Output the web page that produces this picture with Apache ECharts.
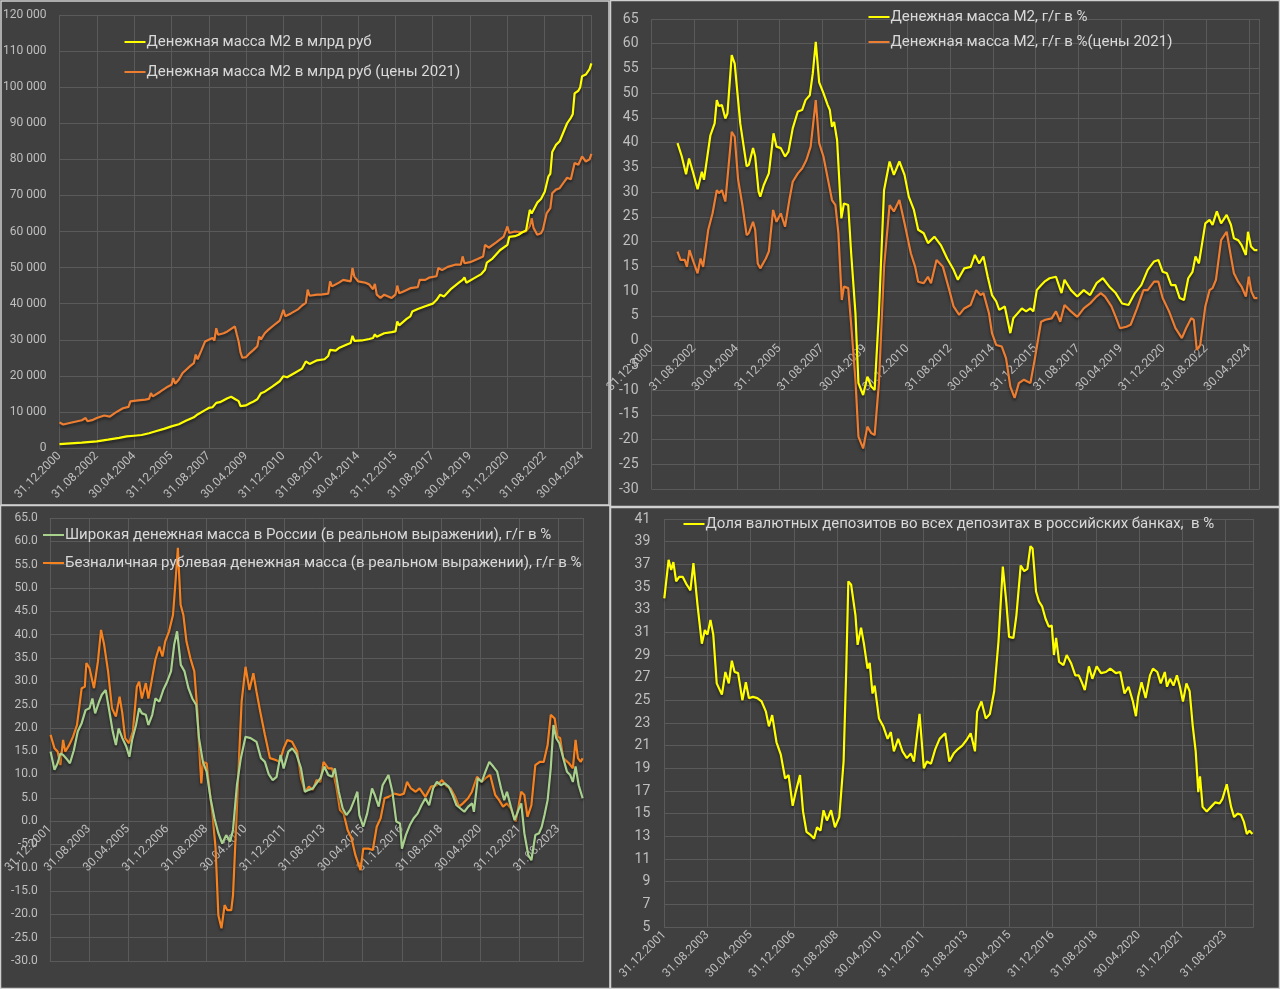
<!DOCTYPE html>
<html><head><meta charset="utf-8">
<script src="https://cdn.jsdelivr.net/npm/echarts@6/dist/echarts.min.js"></script>
<style>html,body{margin:0;padding:0;background:#404040}#c{width:1280px;height:989px}</style>
</head><body><div id="c"></div>
<script>
// ---- tick labels (x = months since first label) ----
const topTickLabels = ['31.12.2000','31.08.2002','30.04.2004','31.12.2005','31.08.2007','30.04.2009','31.12.2010','31.08.2012','30.04.2014','31.12.2015','31.08.2017','30.04.2019','31.12.2020','31.08.2022','30.04.2024'];
const bottomTickLabels = ['31.12.2001','31.08.2003','30.04.2005','31.12.2006','31.08.2008','30.04.2010','31.12.2011','31.08.2013','30.04.2015','31.12.2016','31.08.2018','30.04.2020','31.12.2021','31.08.2023'];

// ---- series names ----
const nameM2 = 'Денежная масса М2 в млрд руб';
const nameM2Real = 'Денежная масса М2 в млрд руб (цены 2021)';
const nameYoY = 'Денежная масса М2, г/г в %';
const nameYoYReal = 'Денежная масса М2, г/г в %(цены 2021)';
const nameBroad = 'Широкая денежная масса в России (в реальном выражении), г/г в %';
const nameCashless = 'Безналичная рублевая денежная масса (в реальном выражении), г/г в %';
const nameFx = 'Доля валютных депозитов во всех депозитах в российских банках,  в %';

// ---- panel 1: M2, bln rub [month since 12.2000, value] ----
const m2Nominal = [[0,1100],[6,1300],[12,1500],[20,1850],[26,2300],[32,2800],[36,3200],[40,3400],[44,3600],[48,4100],[52,4700],[56,5300],[60,6000],[64,6600],[68,7600],[72,8500],[74,9300],[78,10500],[80,11100],[82,11300],[84,12500],[86,12700],[90,13800],[92,14200],[93,14300],[94,13600],[96,13000],[97,11600],[98,11400],[100,11800],[102,12400],[104,12900],[106,13500],[108,15200],[110,15600],[114,17000],[118,18500],[120,19900],[122,19600],[126,20800],[130,22000],[132,24000],[134,23300],[138,24300],[142,24600],[144,25500],[145,27200],[148,27000],[150,27800],[154,28700],[156,29100],[157,31100],[158,29700],[162,29800],[166,30200],[168,30500],[169,31500],[170,30800],[174,31800],[178,32100],[180,32300],[181,35100],[182,34000],[186,35800],[188,36500],[189,37800],[192,38500],[196,39300],[200,40000],[202,41000],[204,42500],[206,42000],[210,44200],[214,45800],[216,46600],[217,47300],[218,45800],[222,47000],[226,48200],[228,49400],[229,51400],[232,52500],[236,54800],[240,56300],[241,58500],[244,58700],[246,59100],[248,59800],[250,60300],[251,60500],[252,66000],[253,65000],[256,68000],[258,69000],[260,71000],[262,75300],[263,76000],[264,82000],[266,84000],[268,85000],[270,87500],[272,90000],[274,91500],[275,92500],[276,98300],[278,99000],[279,100000],[280,103000],[282,103500],[284,105000],[285,106600]];
const m2Real = [[0,7100],[2,6500],[6,7000],[12,7700],[14,8300],[15,7400],[18,7800],[20,8300],[24,9000],[25,9200],[27,8700],[30,9800],[34,11000],[37,11400],[38,12900],[42,13200],[46,13400],[48,13600],[49,15200],[50,14300],[54,15600],[58,17000],[60,17500],[61,19400],[62,17800],[64,19000],[66,20800],[70,22700],[72,23500],[73,25900],[74,24600],[76,27000],[78,29500],[80,30000],[82,30500],[83,29800],[84,33200],[85,31400],[88,31800],[90,32300],[92,33000],[94,33700],[95,31500],[96,29500],[97,26500],[98,25000],[100,25200],[102,26300],[104,27200],[106,28200],[107,30900],[108,30100],[110,31800],[112,32800],[116,34500],[118,35300],[120,38300],[121,36500],[124,37300],[128,38500],[130,39500],[132,40200],[133,43900],[134,42200],[138,42500],[140,42500],[144,42800],[145,46200],[146,44800],[150,45900],[152,46600],[156,46200],[157,49900],[158,47500],[160,46200],[164,45800],[166,45300],[168,44000],[169,45500],[170,42500],[172,41600],[174,42500],[178,41600],[180,42500],[181,45000],[182,42900],[184,43300],[188,44300],[192,44600],[193,46600],[196,46600],[198,47200],[202,47600],[203,49900],[205,49300],[208,50200],[212,50800],[215,50800],[216,53100],[217,51200],[220,51500],[224,52400],[227,53100],[228,56300],[230,55500],[234,57000],[238,58600],[240,61400],[241,59600],[244,60000],[248,59800],[250,60000],[252,61500],[253,63700],[254,61000],[256,59100],[258,59500],[259,60500],[261,65000],[263,66500],[264,70600],[266,71600],[268,72000],[270,73500],[272,74900],[274,74500],[276,79000],[278,78500],[279,78100],[280,80800],[282,79400],[284,80000],[285,81500]];

// ---- panel 2: M2 y/y % [month since 12.2000, value] ----
const m2YoY = [[12.2,39.9],[14.2,37.2],[16.2,33.6],[17.6,36.8],[19.6,33.8],[21.6,30.6],[23.6,34.1],[24.6,32.5],[27.6,41.5],[29.6,43.9],[30.6,48.6],[31.6,47.4],[33,47.6],[34.6,44.9],[35.6,45.9],[37.6,57.7],[39,56.0],[41.6,43.9],[44.6,35.2],[45.6,35.5],[47.6,38.9],[48.6,37.2],[50.2,30.1],[51,29.1],[52.6,31.4],[55,33.8],[57.2,41.9],[58.6,39.2],[60.6,38.9],[62.6,37.2],[64.2,38.2],[66.2,42.9],[68.6,46.3],[70.6,46.6],[72.2,48.6],[74.2,49.6],[75.6,54.0],[77,60.4],[78.6,52.2],[80.6,50.0],[82.6,47.6],[83.6,46.6],[84.6,43.2],[85.6,44.2],[87,40.5],[89,24.7],[90.2,27.7],[92.2,27.4],[93.6,17.6],[95.6,5.5],[97,-8.6],[99.2,-11],[101.2,-7.3],[103,-9.3],[104.6,-10],[106.6,5.5],[109,30.4],[111.6,36.2],[113.6,33.5],[116.2,36.2],[118.6,33.5],[120.6,29.1],[123,26.4],[125,22.4],[127.6,21.7],[129.6,19.7],[132.6,21.0],[135.6,19.3],[138.6,16.6],[141.6,14.3],[143.6,12.3],[146.6,14.6],[149.6,14.9],[151.6,17.3],[153.6,15.6],[155.6,17.0],[157.6,12.9],[159.6,9.2],[161.6,7.9],[163,6.2],[165.6,6.9],[168.2,1.5],[169.6,4.5],[171.6,5.5],[173.6,6.5],[175.6,5.9],[177.6,6.5],[179,5.9],[180.6,10.2],[182.6,11.2],[184.2,11.9],[186.6,12.6],[189.6,12.9],[192.2,9.6],[193.6,12.3],[196.6,10.2],[199.6,8.9],[202.6,10.2],[205.6,9.2],[208.6,11.6],[211.6,12.6],[214.6,10.9],[217.6,9.6],[220.6,7.5],[223.6,7.2],[226.6,9.6],[229.6,11.2],[232.6,14.3],[235.6,16.0],[237.6,16.3],[239.6,13.9],[241.6,13.6],[243.6,11.2],[245.6,11.2],[247.6,8.6],[249.6,8.2],[251.6,12.6],[253.6,13.9],[255,17.0],[256.6,15.6],[259.6,23.7],[261.6,24.4],[263,23.4],[265,26.1],[267,23.7],[269.6,25.4],[271.6,23.4],[273,20.7],[275,20.3],[276.6,19.3],[278.6,17.3],[279.6,22.0],[281,19.0],[282.6,18.3],[284,18.3]];
const m2RealYoY = [[12.2,18.0],[13.6,16.3],[15.6,16.3],[16.6,14.9],[17.8,18.3],[19.6,16.0],[21.6,13.6],[23,16.6],[24.2,14.9],[26.6,22.4],[28.6,25.7],[30.6,30.4],[31.6,29.8],[33,30.4],[34.6,28.1],[37.6,42.2],[39,41.2],[40.6,32.5],[42.6,27.4],[44.6,21.3],[45.6,21.7],[47.6,24.0],[48.6,22.4],[49.8,15.6],[51,14.6],[53.6,16.6],[55,18.0],[57,26.4],[58.6,24.0],[60.6,25.7],[62.6,23.0],[64.6,28.4],[66.2,32.1],[68.6,33.8],[70.6,34.8],[72.6,36.5],[74.6,39.2],[77,48.6],[78.6,39.9],[80.6,37.2],[82.6,32.8],[84.6,28.4],[86.2,27.4],[87.6,21.7],[89.2,8.2],[90.2,10.9],[92.2,10.6],[93.6,3.2],[95.6,-7.9],[97,-19.4],[99.2,-21.8],[101.2,-17.4],[103,-18.7],[104.6,-19.1],[106.6,-8.6],[109,14.9],[111.6,27.4],[113.6,26.1],[116.2,28.4],[118.6,23.7],[121.6,17.6],[123.6,14.9],[125,11.9],[127.6,11.6],[129.6,12.9],[131,11.6],[133.6,16.3],[136.6,14.9],[139.6,10.2],[141.6,6.9],[144.2,5.2],[146.6,6.5],[149.6,7.2],[152.2,10.2],[154.2,9.2],[155.6,9.6],[158.2,5.5],[159.6,1.5],[161.6,-0.9],[164.2,-1.2],[166.2,-3.6],[168.2,-9.3],[170.2,-11.6],[172.2,-8.6],[174.6,-7.9],[177.6,-8.6],[179.6,-3.9],[182.6,3.8],[184.6,4.2],[187.6,4.5],[189.6,5.9],[191.6,3.8],[193.6,7.2],[196.6,5.9],[199.6,4.8],[202.6,6.5],[205.6,7.5],[208.6,8.9],[210.6,9.6],[212.6,8.9],[215.6,6.9],[217.6,4.8],[219.6,2.5],[222.6,2.8],[224.6,3.2],[227.6,6.5],[230.6,10.2],[232.6,10.2],[235.6,11.9],[237.6,11.9],[239.6,8.6],[242.6,5.9],[245.6,2.5],[248.6,0.5],[250.6,2.5],[253,4.5],[254.2,4.2],[255.6,-1.9],[257.2,-0.9],[259.6,6.9],[261.6,10.2],[263,10.6],[264.6,12.3],[267,20.3],[269.6,22.0],[271.6,17.0],[273,13.6],[275,11.9],[276.6,10.9],[278.6,8.9],[280,12.9],[281.2,9.9],[282.6,8.6],[284,8.6]];

// ---- panel 3: real y/y % [month since 12.2001, value] ----
const broadRealYoY = [[0.4,14.9],[2.4,11.0],[4,12.4],[5.4,14.5],[6.8,14.2],[8.3,13.5],[10.3,12.4],[12.3,15.2],[14.3,19.2],[16.3,21.0],[18.3,23.8],[20.3,24.2],[21.8,26.3],[23.2,23.1],[25.2,25.6],[26.6,27.1],[28.6,28.1],[30.2,24.2],[32.2,19.2],[33.8,16.3],[35.2,19.9],[37.1,17.8],[39.1,16.0],[40.7,13.8],[42.1,17.4],[44.1,20.6],[45.7,24.2],[47.1,23.1],[49.1,22.8],[50.4,20.6],[52.4,22.8],[54,26.3],[56,25.6],[58,28.1],[60,29.9],[62,32.1],[63.6,37.8],[65.1,40.7],[67,33.5],[68.9,32.1],[70.9,28.5],[72.9,26.3],[74.9,24.9],[76.3,17.8],[78.3,12.7],[80.2,10.6],[82.2,4.9],[84.2,0.6],[86.2,-2.6],[88.2,-4.8],[90.2,-3.0],[92.2,-4.4],[93.7,-1.9],[95.7,7.7],[97.7,13.5],[100.1,18.1],[102.7,17.8],[105.7,17.0],[108,13.5],[110,12.7],[112,10.0],[114,8.8],[116,9.5],[118,14.2],[119.6,11.3],[122,14.9],[124,15.6],[126,14.5],[128.5,11.3],[130.5,6.3],[132.5,6.7],[134.5,7.0],[136.4,8.1],[138.4,9.2],[140.4,11.7],[142.4,9.9],[144.4,9.5],[145.8,11.3],[147.8,6.3],[149.8,2.7],[151.7,1.3],[153.7,2.4],[155.7,4.5],[157.3,6.3],[158.3,1.3],[160.3,-1.2],[162.3,1.6],[164.8,7.0],[166.2,5.6],[168.2,3.1],[170.2,7.7],[171.2,8.1],[173.2,9.9],[175.2,6.3],[177.2,-0.1],[179.1,-0.5],[180.1,-5.9],[182.1,-3.0],[184.1,-0.9],[186.1,0.6],[188.1,1.6],[190.1,3.4],[192.1,4.9],[194,3.4],[196,7.0],[198,8.4],[200,7.7],[202,8.1],[204,7.4],[206,5.6],[208,3.4],[210,2.7],[212,2.0],[214,3.1],[216,3.8],[216.9,2.0],[218.9,9.2],[220.9,8.4],[222.8,10.6],[224.8,12.7],[226.8,11.7],[228.8,10.6],[230.8,7.0],[232.4,4.5],[233.8,6.3],[235.8,3.1],[237.7,0.2],[239.7,2.4],[241.1,3.8],[242.7,-2.6],[244.7,-7.3],[246.3,-8.4],[248.3,-3.0],[250.2,-2.6],[251.6,-1.2],[253,1.3],[254.6,4.5],[256.2,11.3],[257.6,20.6],[259,17.8],[260.6,16.7],[262.6,13.5],[264.5,10.6],[266.1,9.9],[267.5,8.4],[268.9,11.7],[270.5,7.7],[272.5,4.9]];
const cashlessRealYoY = [[0.4,18.5],[2.4,15.6],[4,14.9],[5.4,12.0],[6.8,17.4],[7.9,14.9],[9.9,16.3],[11.9,18.1],[13.9,20.6],[16.3,28.5],[17.9,28.8],[18.7,33.9],[20.3,32.8],[21.3,33.1],[22.6,28.5],[24.6,34.2],[26.2,41.0],[27.8,37.8],[29.8,32.1],[31.8,24.2],[33.8,22.4],[35.7,26.7],[37.1,23.1],[38.5,17.8],[40.5,16.7],[42.5,19.2],[44.5,28.8],[45.7,29.9],[47.1,26.3],[49.1,29.6],[50.4,26.3],[52,29.9],[54,34.6],[56,37.4],[57.6,35.3],[59,38.5],[61,40.7],[63,44.2],[64.3,51.4],[65.5,58.6],[66.9,46.4],[68.3,44.2],[69.9,38.5],[71.9,34.9],[73.9,32.1],[75.5,23.5],[76.3,16.3],[77.5,8.1],[78.3,12.7],[80.2,12.4],[81.8,6.3],[83.4,0.6],[84.8,-5.9],[86.2,-20.2],[87.8,-23.0],[89.4,-18.0],[90.8,-19.1],[92.8,-19.1],[93.7,-15.9],[95.3,-0.9],[96.7,12.7],[98.1,25.6],[100.1,33.1],[102.1,28.1],[104.1,31.7],[105.7,27.8],[107.6,23.5],[110,18.5],[112.6,13.5],[115.6,13.1],[117.6,12.7],[119.6,15.6],[121.5,17.4],[123.9,17.0],[126.5,14.9],[128.5,9.2],[130.5,6.3],[132.5,7.4],[134.5,6.7],[136.4,8.8],[138.4,8.4],[140,12.7],[142.4,11.3],[144.4,11.3],[146.4,7.7],[148.4,2.4],[150.3,1.6],[152.3,-1.9],[154.3,-3.7],[156.3,-7.3],[158.9,-10.5],[160.3,-5.9],[162.9,-5.9],[165.2,-6.2],[167.2,-1.2],[169.2,0.6],[171.2,4.9],[173.2,5.2],[176.2,5.9],[179.1,5.6],[181.1,5.9],[182.7,8.4],[184.7,7.0],[187.1,6.3],[189.1,7.0],[192.1,5.2],[195,7.4],[198,7.7],[200.6,8.8],[203,7.4],[205,7.0],[207.3,5.2],[209.3,3.1],[211.3,3.8],[213.9,4.9],[215.9,6.3],[218.5,9.5],[220.9,8.4],[222.8,9.2],[225.2,9.9],[227.8,5.6],[229.8,4.5],[231.8,3.1],[233.8,3.8],[235.8,2.7],[238.3,-0.1],[239.7,3.1],[241.1,6.3],[242.7,5.6],[244.3,0.9],[246.3,3.4],[248.3,12.0],[250.6,12.7],[252.6,12.7],[254.6,16.3],[256.2,22.8],[258.2,22.0],[259.6,18.1],[261,17.8],[262.6,13.5],[265.5,12.4],[267.5,11.3],[268.9,17.4],[270.1,13.5],[271.5,12.7],[272.5,13.5]];

// ---- panel 4: FX deposits share % [month since 12.2001, value] ----
const fxDepositShare = [[0,34.0],[2,37.4],[3.2,36.5],[4.2,37.2],[5.5,35.5],[6.9,35.9],[8.5,35.9],[10.1,35.3],[11.1,35.0],[12.1,34.7],[13.5,37.1],[15.4,33.4],[17.4,30.0],[18.8,31.2],[20,30.8],[21.4,32.1],[22.7,30.8],[24.3,26.5],[26.7,25.5],[28.3,27.5],[29.9,26.5],[31.3,28.5],[32.6,27.5],[34.2,27.4],[36.2,25.0],[37.8,26.6],[39.2,25.2],[41.1,25.3],[43.1,25.2],[45.1,24.9],[47.1,24.0],[48.5,22.7],[50,23.7],[52,21.3],[54,20.2],[56,18.1],[57.6,18.4],[59.5,15.7],[60.9,16.9],[62.9,18.4],[64.3,15.2],[65.9,13.4],[67.9,13.1],[69.4,12.8],[70.8,13.8],[72.4,13.5],[73.8,15.3],[75.4,14.4],[77.3,15.3],[79.1,13.8],[81.1,14.7],[83.1,19.6],[84.3,27.5],[85.3,35.5],[86.6,35.2],[88.6,32.5],[89.6,29.9],[91.2,31.4],[92.6,29.9],[94.2,27.8],[95.2,28.3],[96.5,25.6],[97.5,26.3],[99.5,23.4],[101.5,22.7],[103.5,21.6],[105,22.2],[106.4,20.5],[108.4,21.6],[110.4,20.5],[112.4,19.9],[114.3,20.3],[115.7,19.6],[118.3,23.8],[120.3,19.0],[121.7,19.6],[123.6,19.4],[125.6,20.7],[127.6,21.6],[130.2,22.1],[132.1,19.6],[134.1,20.3],[136.1,20.7],[138.1,21.0],[140.1,21.5],[142,22.1],[144,20.5],[145,24.0],[147,24.9],[149,23.4],[150.9,23.8],[152.9,25.8],[154.9,30.2],[156.9,36.8],[158.5,33.7],[159.8,30.6],[161.8,30.5],[163.2,32.5],[165.2,36.9],[166.8,36.4],[168.3,36.6],[169.7,38.6],[170.7,38.4],[172.3,34.6],[173.7,33.7],[175.1,33.3],[176.7,32.2],[178.2,31.5],[179.6,31.6],[180.6,29.0],[181.6,30.5],[183,28.4],[185,28.1],[186.5,29.0],[188.5,28.3],[190.5,27.2],[192.1,27.2],[193.5,26.6],[194.9,25.9],[196.8,28.0],[198.4,26.9],[200.4,28.0],[202.4,27.4],[204.7,27.5],[206.7,27.8],[209.3,27.4],[211.3,27.5],[213.3,25.6],[215.2,26.2],[217.2,24.9],[218.6,23.6],[219.6,25.3],[221.2,26.6],[223.1,25.2],[225.1,27.2],[226.5,27.8],[228.5,27.5],[230.1,26.5],[232,27.5],[233,26.2],[234.4,26.9],[236,26.3],[237.6,27.2],[239,26.2],[240.4,24.9],[242,26.5],[243.5,25.8],[244.9,22.8],[246.3,20.5],[247.5,16.9],[248.3,18.3],[249.5,15.6],[251.4,15.2],[253.4,15.6],[255.4,16.0],[257.4,15.9],[258.7,16.3],[260.7,17.6],[262.7,15.6],[264.1,14.7],[265.7,15.0],[267.3,14.9],[268.6,14.3],[270,13.2],[271.2,13.5],[272.6,13.2]];

// ---- styling ----
const BG = '#404040', GRID = '#5a5a5a', LABEL = '#bfbfbf', LEG = '#d9d9d9';
const FONT = 'Roboto, "Liberation Sans", sans-serif';
const YELLOW = '#ffff00', ORANGE = '#ed7d31', ORANGE2 = '#f5821f', GREEN = '#a9d18e';

// axis crossing at value 0 of the y axis: the x axis is lifted by the share of the
// grid height below zero (computed from the y axis range)
function xAxis(gi, max, labels, yMin, yMax, gridH) {
  const lift = yMin < 0 ? (-yMin) / (yMax - yMin) * gridH : 0;
  return {
    type: 'value', gridIndex: gi, min: 0, max: max, interval: 20,
    offset: -lift,
    axisLine: { show: true, onZero: false, lineStyle: { color: GRID } },
    axisTick: { show: false },
    splitLine: { show: true, lineStyle: { color: GRID, width: 1 } },
    axisLabel: {
      rotate: 45, color: LABEL, fontSize: 12, fontFamily: FONT, margin: 6,
      showMinLabel: true, showMaxLabel: true,
      formatter: v => (Math.abs(v % 20) < 1e-6 && labels[Math.round(v / 20)]) ? labels[Math.round(v / 20)] : ''
    }
  };
}
function yAxis(gi, min, max, interval, fs, margin, fmt) {
  return {
    type: 'value', gridIndex: gi, min: min, max: max, interval: interval,
    axisLine: { show: false, onZero: false }, axisTick: { show: false },
    splitLine: { show: true, lineStyle: { color: GRID, width: 1 } },
    axisLabel: { color: LABEL, fontSize: fs, fontFamily: FONT, margin: margin, formatter: fmt }
  };
}
function line(name, gi, color, data) {
  return {
    name: name, type: 'line', xAxisIndex: gi, yAxisIndex: gi, data: data,
    showSymbol: false, symbol: 'none', smooth: false,
    lineStyle: { color: color, width: 2.2, shadowColor: 'rgba(0,0,0,0.55)', shadowBlur: 3, shadowOffsetY: 2 },
    itemStyle: { color: color }, emphasis: { disabled: true }
  };
}
function legend(names, left, top, gap) {
  return {
    data: names, orient: 'vertical', left: left, top: top, padding: 0, itemGap: gap,
    icon: 'rect', itemWidth: 21, itemHeight: 2,
    textStyle: { color: LEG, fontSize: 15, fontFamily: FONT, lineHeight: 17, padding: [0, 0, 0, -4] },
    selectedMode: false
  };
}
const thousands = v => String(v).replace(/\B(?=(\d{3})+(?!\d))/g, ' ');

const grids = [
  { left: 57.6, top: 15, width: 533.8, height: 433 },
  { left: 651.5, top: 19, width: 608, height: 470 },
  { left: 49.8, top: 518, width: 533.8, height: 443 },
  { left: 664.3, top: 519, width: 589, height: 408 }
];

const chart = echarts.init(document.getElementById('c'), null, { renderer: 'canvas' });
chart.setOption({
  backgroundColor: BG,
  animation: false,
  grid: grids,
  xAxis: [
    xAxis(0, 285, topTickLabels, 0, 120000, grids[0].height),
    xAxis(1, 285, topTickLabels, -30, 65, grids[1].height),
    xAxis(2, 273, bottomTickLabels, -30, 65, grids[2].height),
    xAxis(3, 273, bottomTickLabels, 5, 41, grids[3].height)
  ],
  yAxis: [
    yAxis(0, 0, 120000, 10000, 12, 13, thousands),
    yAxis(1, -30, 65, 5, 14, 13, v => String(v)),
    yAxis(2, -30, 65, 5, 12, 12, v => v.toFixed(1)),
    yAxis(3, 5, 41, 2, 14, 14, v => String(v))
  ],
  legend: [
    legend([nameM2, nameM2Real], 124.5, 33.5, 13),
    legend([nameYoY, nameYoYReal], 868.5, 8.5, 8),
    legend([nameBroad, nameCashless], 43, 526.5, 11),
    legend([nameFx], 683.5, 515.5, 10)
  ],
  series: [
    line(nameM2Real, 0, ORANGE, m2Real),
    line(nameM2, 0, YELLOW, m2Nominal),
    line(nameYoYReal, 1, ORANGE, m2RealYoY),
    line(nameYoY, 1, YELLOW, m2YoY),
    line(nameCashless, 2, ORANGE2, cashlessRealYoY),
    line(nameBroad, 2, GREEN, broadRealYoY),
    line(nameFx, 3, YELLOW, fxDepositShare)
  ],
  graphic: [
    { type: 'rect', shape: { x: 1, y: 1, width: 608, height: 504 }, style: { fill: 'none', stroke: '#d0d0d0', lineWidth: 1.5 }, silent: true },
    { type: 'rect', shape: { x: 610.5, y: 0.5, width: 669, height: 506 }, style: { fill: 'none', stroke: '#d0d0d0', lineWidth: 1.5 }, silent: true },
    { type: 'rect', shape: { x: 0.5, y: 505.5, width: 609.5, height: 483 }, style: { fill: 'none', stroke: '#d0d0d0', lineWidth: 1.5 }, silent: true },
    { type: 'rect', shape: { x: 610.5, y: 507.5, width: 669, height: 481 }, style: { fill: 'none', stroke: '#d0d0d0', lineWidth: 1.5 }, silent: true }
  ]
});
</script></body></html>
